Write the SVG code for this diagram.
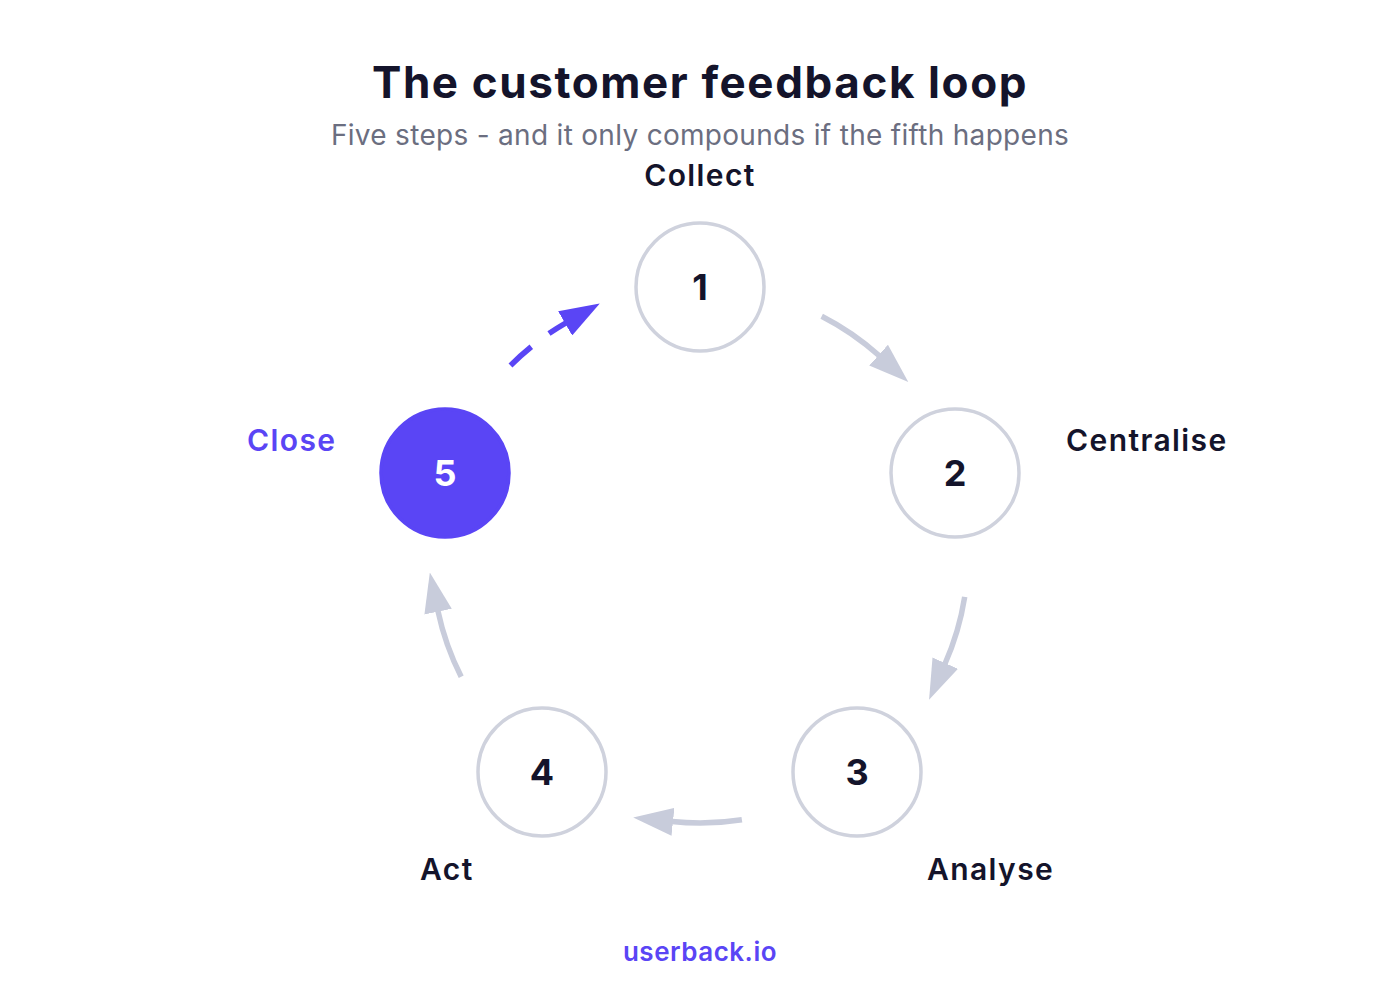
<svg xmlns="http://www.w3.org/2000/svg" width="1400" height="1000" viewBox="0 0 1400 1000">
<defs>
<style>
text{font-family:Inter,"Noto Sans","Liberation Sans",sans-serif}
.title{font-size:44px;font-weight:700;fill:#14142b;letter-spacing:1.6px}
.sub{font-size:28px;font-weight:400;fill:#6b6e80;letter-spacing:0.3px}
.lbl{font-size:30px;font-weight:600;fill:#14142b;letter-spacing:1.4px}
.lbl.hi{fill:#5a45f5}
.num{font-size:36px;font-weight:700;fill:#14142b;text-anchor:middle}
.num.hi{fill:#ffffff}
.ring{fill:#ffffff;stroke:#cfd2dd;stroke-width:3.5}
.ring.hi{fill:#5a45f5;stroke:#5a45f5}
.arr{fill:none;stroke:#c8ccdb;stroke-width:5.5}
.arr.hi{stroke:#5a45f5;stroke-dasharray:28 22}
.brand{font-size:26px;font-weight:600;fill:#5a45f5;text-anchor:middle;letter-spacing:0.5px}
</style>
<marker id="hg" markerUnits="userSpaceOnUse" markerWidth="40" markerHeight="28" viewBox="0 0 40 28" refX="1" refY="14" orient="auto"><path d="M0,0 L40,14 L0,28 z" fill="#c8ccdb"/></marker>
<marker id="hp" markerUnits="userSpaceOnUse" markerWidth="40" markerHeight="28" viewBox="0 0 40 28" refX="1" refY="14" orient="auto"><path d="M0,0 L40,14 L0,28 z" fill="#5a45f5"/></marker>
</defs>
<rect width="1400" height="1000" fill="#ffffff"/>
<text class="title" x="700" y="98" text-anchor="middle">The customer feedback loop</text>
<text class="sub" x="700" y="145" text-anchor="middle">Five steps - and it only compounds if the fifth happens</text>
<g id="connectors">
<path class="arr" d="M821.7,316.2 A268,268 0 0 1 879.3,355.8" marker-end="url(#hg)"/>
<path class="arr" d="M964.7,596.9 A268,268 0 0 1 944.9,664.0" marker-end="url(#hg)"/>
<path class="arr" d="M741.9,819.8 A268,268 0 0 1 672.0,821.6" marker-end="url(#hg)"/>
<path class="arr" d="M461.2,676.7 A268,268 0 0 1 437.9,610.7" marker-end="url(#hg)"/>
<path class="arr hi" d="M510.5,365.5 A268,268 0 0 1 566.0,322.9" marker-end="url(#hp)"/>
</g>
<g id="node1">
<circle class="ring" cx="700" cy="287" r="64"/>
<text class="num" x="700" y="300">1</text>
<text class="lbl" x="700" y="186" text-anchor="middle">Collect</text>
</g>
<g id="node2">
<circle class="ring" cx="955" cy="473" r="64"/>
<text class="num" x="955" y="486">2</text>
<text class="lbl" x="1066" y="451">Centralise</text>
</g>
<g id="node3">
<circle class="ring" cx="857" cy="772" r="64"/>
<text class="num" x="857" y="785">3</text>
<text class="lbl" x="927" y="880">Analyse</text>
</g>
<g id="node4">
<circle class="ring" cx="542" cy="772" r="64"/>
<text class="num" x="542" y="785">4</text>
<text class="lbl" x="420" y="880">Act</text>
</g>
<g id="node5">
<circle class="ring hi" cx="445" cy="473" r="64"/>
<text class="num hi" x="445" y="486">5</text>
<text class="lbl hi" x="247" y="451">Close</text>
</g>
<text class="brand" x="700" y="961">userback.io</text>
</svg>
